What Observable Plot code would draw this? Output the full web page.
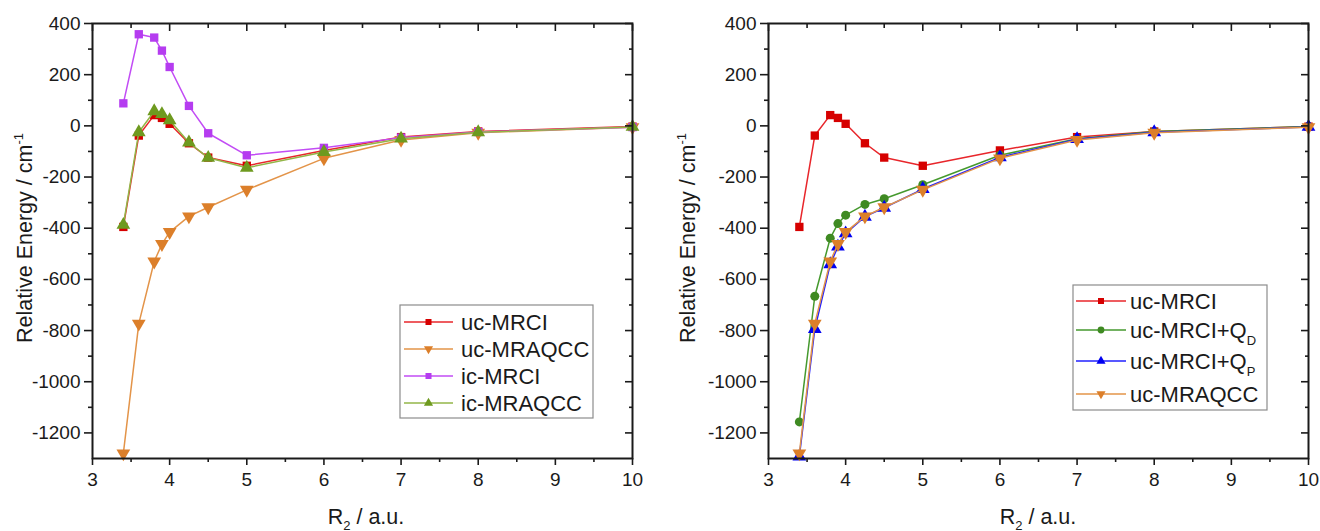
<!DOCTYPE html>
<html><head><meta charset="utf-8">
<script src="https://cdn.jsdelivr.net/npm/d3@7"></script>
<script src="https://cdn.jsdelivr.net/npm/@observablehq/plot@0.6"></script>
<style>
html,body{margin:0;padding:0;background:#fff;}
#wrap{display:flex;width:1320px;height:531px;}
svg{font-family:"Liberation Sans",Arial,sans-serif;}
</style></head><body><div id="wrap"></div>
<script>
// ---- data ----
const R2 = [3.4, 3.6, 3.8, 3.9, 4.0, 4.25, 4.5, 5, 6, 7, 8, 10];
const ucMRCI   = [-395, -38, 42, 31, 8, -68, -124, -156, -96, -44, -22, -3];
const ucMRAQCC = [-1280, -773, -530, -462, -415, -354, -318, -250, -127, -55, -27, -5];
const icMRCI   = [88, 358, 345, 294, 230, 78, -29, -115, -86, -46, -24, -5];
const icMRAQCC = [-387, -25, 57, 46, 22, -65, -125, -164, -102, -50, -25, -4];
const ucMRCIQD = [-1157, -666, -439, -382, -349, -307, -285, -230, -115, -50, -22, -3];
const ucMRCIQP = [-1292, -794, -541, -472, -420, -355, -320, -247, -123, -52, -25, -4];
const xTicks = [3, 4, 5, 6, 7, 8, 9, 10];
const xMinor = [3.5, 4.5, 5.5, 6.5, 7.5, 8.5, 9.5];
const yTicks = [400, 200, 0, -200, -400, -600, -800, -1000, -1200];
const yMinor = [300, 100, -100, -300, -500, -700, -900, -1100];

const triDown = {draw(ctx, size) {
  const y = -Math.sqrt(size / (Math.sqrt(3) * 3));
  ctx.moveTo(0, -y * 2);
  ctx.lineTo(-Math.sqrt(3) * y, y);
  ctx.lineTo(Math.sqrt(3) * y, y);
  ctx.closePath();
}};

const S = {
  ucMRCI:   {name: "uc-MRCI",   values: ucMRCI,   line: "#e8262b", fill: "#d60000", symbol: "square",   r: 4.7},
  ucMRAQCC: {name: "uc-MRAQCC", values: ucMRAQCC, line: "#e39449", fill: "#dc7f2a", symbol: triDown,    r: 5.1},
  icMRCI:   {name: "ic-MRCI",   values: icMRCI,   line: "#c24cf5", fill: "#b53cf0", symbol: "square",   r: 4.7},
  icMRAQCC: {name: "ic-MRAQCC", values: icMRAQCC, line: "#93b648", fill: "#6e9a1f", symbol: "triangle", r: 5.1},
  QD:       {name: "uc-MRCI+Q", sub: "D", values: ucMRCIQD, line: "#45992e", fill: "#3f8a22", symbol: "circle", r: 4.5},
  QP:       {name: "uc-MRCI+Q", sub: "P", values: ucMRCIQP, line: "#2020ff", fill: "#0000f0", symbol: "triangle", r: 5.1}
};

const ink = "#1a1a1a";
function panel(series, marginLeft, marginRight, yTitleX, xTitleX, legend) {
  const marks = [];
  for (const s of series) {
    const d = R2.map((x, i) => ({x, y: s.values[i]}));
    marks.push(Plot.line(d, {x: "x", y: "y", stroke: s.line, strokeWidth: 1.5}));
    marks.push(Plot.dot(d, {x: "x", y: "y", symbol: s.symbol, r: s.r, fill: s.fill, stroke: "none"}));
  }
  const fmt = d => String(d);
  const el = Plot.plot({
    width: 660, height: 531,
    marginLeft, marginRight, marginTop: 23, marginBottom: 73,
    x: {domain: [3, 10]},
    y: {domain: [-1300, 400]},
    style: {fontFamily: '"Liberation Sans", Arial, sans-serif', fontSize: "19px", color: ink, background: "white", overflow: "visible"},
    marks: [
      ...marks,
      Plot.axisX(xTicks, {anchor: "bottom", tickSize: 7, tickPadding: 7, label: null, tickFormat: fmt, strokeWidth: 1.6}),
      Plot.axisX(xMinor, {anchor: "bottom", tickSize: 4, text: null, label: null, strokeWidth: 1.6}),
      Plot.axisX(xTicks, {anchor: "top", tickSize: -7, text: null, label: null, strokeWidth: 1.6}),
      Plot.axisX(xMinor, {anchor: "top", tickSize: -4, text: null, label: null, strokeWidth: 1.6}),
      Plot.axisY(yTicks, {anchor: "left", tickSize: 8, tickPadding: 4, label: null, tickFormat: fmt, strokeWidth: 1.6}),
      Plot.axisY(yMinor, {anchor: "left", tickSize: 4, text: null, label: null, strokeWidth: 1.6}),
      Plot.axisY(yTicks, {anchor: "right", tickSize: -8, text: null, label: null, strokeWidth: 1.6}),
      Plot.axisY(yMinor, {anchor: "right", tickSize: -4, text: null, label: null, strokeWidth: 1.6}),
      Plot.frame({stroke: ink, strokeWidth: 2})
    ]
  });
  const svg = d3.select(el);
  // y title
  const yt = svg.append("text")
    .attr("transform", `translate(${yTitleX},238) rotate(-90)`)
    .attr("text-anchor", "middle").attr("font-size", 21.5).attr("fill", ink);
  yt.append("tspan").text("Relative Energy / cm");
  yt.append("tspan").attr("dy", -9).attr("font-size", 13).text("-1");
  // x title
  const xt = svg.append("text")
    .attr("x", xTitleX).attr("y", 524)
    .attr("text-anchor", "middle").attr("font-size", 21.5).attr("fill", ink);
  xt.append("tspan").text("R");
  xt.append("tspan").attr("dy", 6).attr("font-size", 13).text("2");
  xt.append("tspan").attr("dy", -6).text(" / a.u.");
  // legend
  const g = svg.append("g").attr("text-anchor", "start");
  g.append("rect").attr("x", legend.x).attr("y", legend.y).attr("width", legend.w).attr("height", legend.h)
    .attr("fill", "white").attr("stroke", "#8c8c8c").attr("stroke-width", 1.2);
  series.forEach((s, i) => {
    const cy = legend.rows[i];
    g.append("line").attr("x1", legend.lx1).attr("x2", legend.lx2).attr("y1", cy).attr("y2", cy)
      .attr("stroke", s.line).attr("stroke-width", 1.5);
    const sym = typeof s.symbol === "string"
      ? {square: d3.symbolSquare, triangle: d3.symbolTriangle, circle: d3.symbolCircle}[s.symbol]
      : s.symbol;
    g.append("path").attr("d", d3.symbol(sym, Math.PI * 3.4 * 3.4)())
      .attr("transform", `translate(${(legend.lx1 + legend.lx2) / 2},${cy})`).attr("fill", s.fill);
    const t = g.append("text").attr("x", legend.tx).attr("y", cy).attr("dy", "0.36em")
      .attr("text-anchor", "start").attr("font-size", 22).attr("fill", ink);
    t.append("tspan").text(s.name);
    if (s.sub) t.append("tspan").attr("dy", 7).attr("font-size", 13).text(s.sub);
  });
  return el;
}

const wrap = document.getElementById("wrap");
wrap.append(panel([S.ucMRCI, S.ucMRAQCC, S.icMRCI, S.icMRAQCC], 92, 28, 32, 366,
  {x: 400, y: 305, w: 193, h: 113, rows: [322, 349, 376, 403], lx1: 404, lx2: 453, tx: 461}));
wrap.append(panel([S.ucMRCI, S.QD, S.QP, S.ucMRAQCC], 108, 12, 35, 378,
  {x: 413, y: 285, w: 194, h: 125, rows: [301, 330, 361, 394], lx1: 416, lx2: 466, tx: 470}));
</script></body></html>
